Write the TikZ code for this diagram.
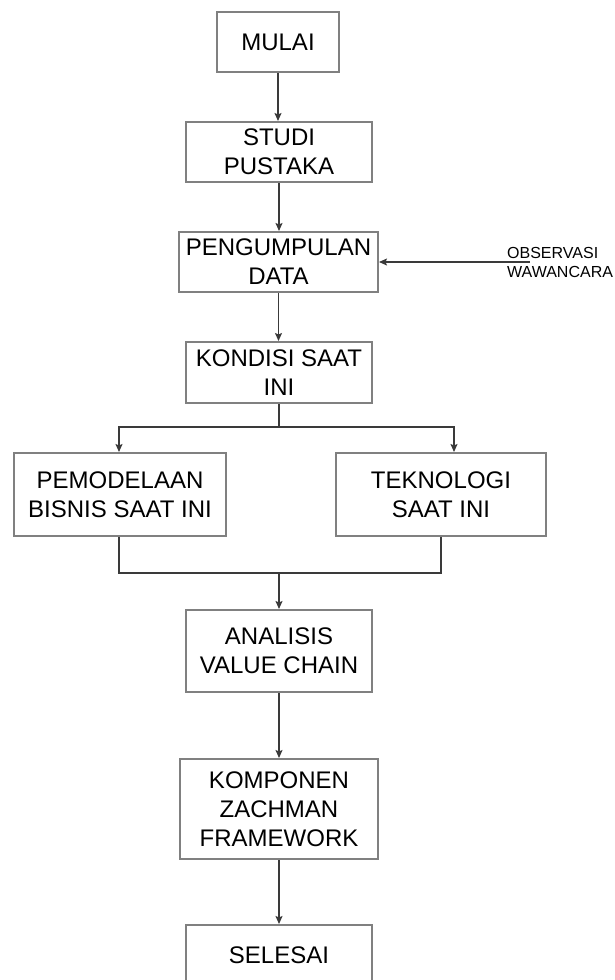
\documentclass[tikz,border=0pt]{standalone}
\usepackage{fontspec}
\setmainfont{Liberation Sans}
\usetikzlibrary{arrows.meta}
\definecolor{boxgray}{HTML}{808080}
\definecolor{linegray}{HTML}{3A3A3A}
\tikzset{
  procbox/.style={draw=boxgray, line width=2pt, fill=white, align=center, inner sep=0pt,
    font=\fontsize{24}{29}\selectfont, text=black},
  conn/.style={draw=linegray, line width=1.3pt},
  arr/.style={conn, -{Stealth[length=8pt,width=7pt,inset=1.5pt]}},
}
\begin{document}
\begin{tikzpicture}[x=1pt,y=-1pt]
\useasboundingbox (0,0) rectangle (614,980);
\clip (0,0) rectangle (614,980);
\node[procbox, minimum width=122pt, minimum height=60pt] (mulai) at (278,42) {MULAI};
\node[procbox, minimum width=186pt, minimum height=60pt] (studi) at (279,152) {STUDI\\PUSTAKA};
\node[procbox, minimum width=199pt, minimum height=60pt] (kumpul) at (278.5,262) {PENGUMPULAN\\DATA};
\node[procbox, minimum width=186pt, minimum height=61pt] (kondisi) at (279,372.5) {KONDISI SAAT\\INI};
\node[procbox, minimum width=212pt, minimum height=83pt] (bisnis) at (120,494.5) {PEMODELAAN\\BISNIS SAAT INI};
\node[procbox, minimum width=210pt, minimum height=83pt] (tekno) at (441,494.5) {TEKNOLOGI\\SAAT INI};
\node[procbox, minimum width=186pt, minimum height=82pt] (analisis) at (279,651) {ANALISIS\\VALUE CHAIN};
\node[procbox, minimum width=198pt, minimum height=100pt] (zachman) at (279,809) {KOMPONEN\\ZACHMAN\\FRAMEWORK};
\node[procbox, minimum width=186pt, minimum height=60pt, text height=17pt] (selesai) at (279,955) {SELESAI};
\node[anchor=west, align=left, inner sep=0pt, font=\fontsize{16}{19}\selectfont] (obs) at (507,262.5) {OBSERVASI\\WAWANCARA};
\coordinate (obsend) at (530,262);
\coordinate (split) at (279,427);
\coordinate (merge) at (279,573);
\draw[arr] (mulai.south) -- (mulai.south |- studi.north);
\draw[arr] (studi.south) -- (studi.south |- kumpul.north);
\draw[arr] (kumpul.south) -- (kumpul.south |- kondisi.north);
\draw[arr] (obsend) -- (kumpul.east);
\draw[conn] (kondisi.south) -- (split);
\draw[arr] (split) -| ([xshift=-1pt]bisnis.north);
\draw[arr] (split) -| ([xshift=13pt]tekno.north);
\draw[conn] ([xshift=-1pt]bisnis.south) |- (merge) -| (tekno.south);
\draw[arr] (merge) -- (analisis.north);
\draw[arr] (analisis.south) -- (zachman.north);
\draw[arr] (zachman.south) -- (selesai.north);
\end{tikzpicture}
\end{document}
